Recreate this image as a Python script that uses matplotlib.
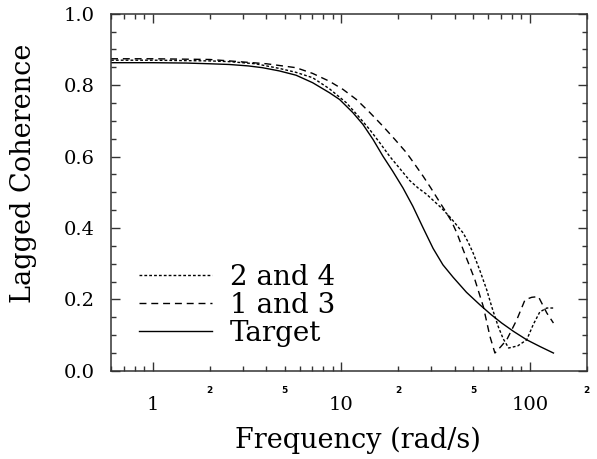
import numpy as np
import matplotlib
matplotlib.use("Agg")
import matplotlib.pyplot as plt
from matplotlib.ticker import FixedLocator, LogLocator, MultipleLocator, NullFormatter, FixedFormatter

# values
f_target = [0.6, 1.0, 1.5, 2.0, 2.54, 3.2, 3.81, 4.68, 5.74, 7.03, 8.63, 9.77, 11.5, 13.0, 14.7,
            16.6, 18.7, 21.2, 23.9, 27.0, 30.6, 34.5, 39.1, 46.0, 54.2, 62.0, 70.7, 82.0, 96.0, 113.0, 133.0]
c_target = [0.863, 0.863, 0.862, 0.860, 0.858, 0.854, 0.849, 0.840, 0.828, 0.807, 0.779, 0.760, 0.723, 0.690, 0.648,
            0.601, 0.559, 0.512, 0.461, 0.402, 0.343, 0.297, 0.262, 0.220, 0.185, 0.158, 0.134, 0.110, 0.087, 0.068, 0.050]

f_13 = [0.6, 1.0, 2.0, 2.54, 4.0, 5.74, 7.03, 8.63, 10.2, 12.0, 14.1, 16.6, 19.2, 22.1, 24.5, 27.1, 29.7,
        32.5, 35.3, 38.3, 41.0, 44.2, 47.5, 51.0, 56.5, 61.3, 65.1, 70.0, 75.2, 85.0, 94.0, 102.0, 110.7, 122.7, 133.0]
c_13 = [0.874, 0.874, 0.872, 0.868, 0.860, 0.849, 0.833, 0.811, 0.788, 0.760, 0.724, 0.685, 0.648, 0.611, 0.578, 0.545, 0.513,
        0.480, 0.450, 0.419, 0.385, 0.339, 0.297, 0.255, 0.180, 0.096, 0.050, 0.068, 0.087, 0.143, 0.199, 0.206, 0.208, 0.162, 0.134]

f_24 = [0.6, 1.0, 2.0, 2.54, 3.5, 4.68, 5.74, 7.03, 8.63, 10.6, 12.2, 14.1, 16.0, 18.0, 20.5, 23.0, 25.5, 28.2,
        31.0, 33.9, 38.0, 42.0, 44.2, 47.0, 49.9, 54.0, 58.9, 63.0, 67.8, 72.0, 77.0, 86.0, 96.0, 104.0, 112.6, 122.7, 133.0]
c_24 = [0.870, 0.870, 0.868, 0.866, 0.860, 0.847, 0.836, 0.821, 0.790, 0.751, 0.715, 0.676, 0.638, 0.601, 0.565, 0.533, 0.512, 0.495,
        0.475, 0.456, 0.428, 0.400, 0.386, 0.360, 0.330, 0.283, 0.227, 0.175, 0.124, 0.090, 0.064, 0.070, 0.087, 0.130, 0.165, 0.176, 0.176]

labels = ["2 and 4", "1 and 3", "Target"]
decade_ticks = [1, 10, 100]
decade_labels = ["1", "10", "100"]
small_ticks = [2, 5, 20, 50, 200]
small_labels = ["2", "5", "2", "5", "2"]

plt.rcParams['font.family'] = ['DejaVu Serif']

fig = plt.figure(figsize=(5.97, 4.59), dpi=100)
ax = fig.add_axes([0.186, 0.192, 0.797, 0.778])

ax.plot(f_24, c_24, color='black', lw=1.0, dashes=(2.0, 1.5), label=labels[0])
ax.plot(f_13, c_13, color='black', lw=1.0, dashes=(5.0, 3.5), label=labels[1])
ax.plot(f_target, c_target, color='black', lw=1.0, label=labels[2])

ax.set_xscale('log')
ax.set_xlim(0.6, 200)
ax.set_ylim(0, 1.0)

ax.xaxis.set_major_locator(FixedLocator(decade_ticks))
ax.xaxis.set_major_formatter(FixedFormatter(decade_labels))
ax.xaxis.set_minor_locator(LogLocator(base=10, subs=np.arange(2, 10)))
ax.xaxis.set_minor_formatter(NullFormatter())
ax.yaxis.set_major_locator(MultipleLocator(0.2))
ax.yaxis.set_minor_locator(MultipleLocator(0.05))
ax.yaxis.set_major_formatter(plt.FormatStrFormatter('%.1f'))

ax.tick_params(which='both', direction='in', top=True, right=True, width=1.0, color='#333333')
ax.tick_params(which='major', length=6.5)
ax.tick_params(which='minor', length=3.8)
ax.tick_params(axis='y', which='major', labelsize=14, pad=12)
ax.tick_params(axis='x', which='major', labelsize=14, pad=18)

for s in ax.spines.values():
    s.set_linewidth(1.1)
    s.set_color('#333333')

for xv, t in zip(small_ticks, small_labels):
    ax.text(xv, -0.056, t, transform=ax.get_xaxis_transform(), ha='center', va='center',
            fontsize=6.5, fontweight='bold', family='DejaVu Sans')

fig.text(0.040, 0.623, "Lagged Coherence", rotation=90, ha='center', va='center', fontsize=19.5)
fig.text(0.600, 0.041, "Frequency (rad/s)", ha='center', va='center', fontsize=19.5)

ax.legend(loc='upper left', bbox_to_anchor=(0.059, 0.30), frameon=False, fontsize=20,
          handlelength=2.63, handletextpad=0.65, labelspacing=0.04, borderpad=0, borderaxespad=0)

fig.savefig("out.png", dpi=100)
